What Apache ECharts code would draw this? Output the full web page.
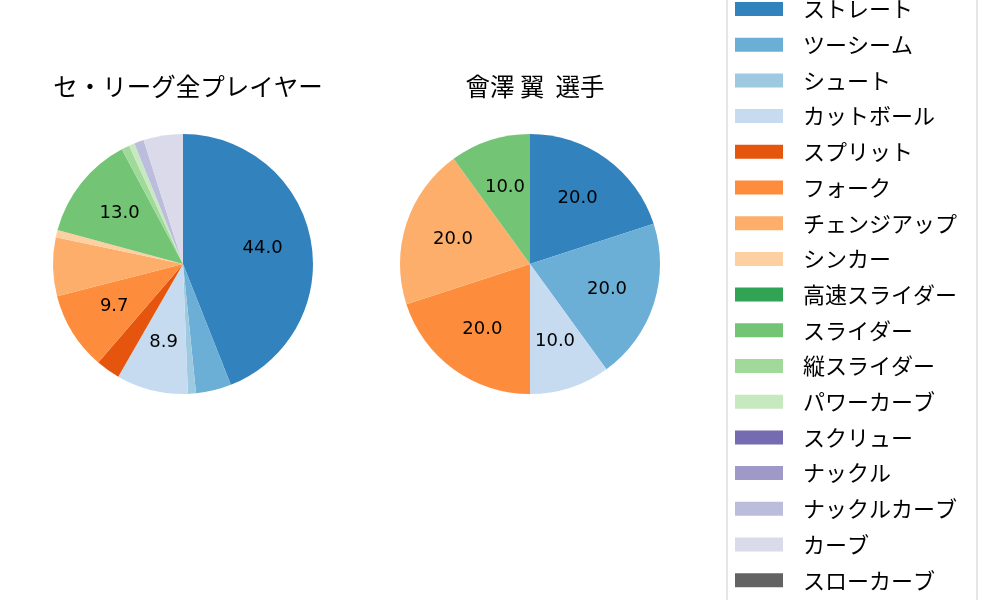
<!DOCTYPE html>
<html>
<head>
<meta charset="utf-8">
<script src="https://cdn.jsdelivr.net/npm/echarts@6/dist/echarts.min.js"></script>
<style>
  html, body { margin: 0; padding: 0; background: #fff; }
  #chart { width: 1000px; height: 600px; }
</style>
</head>
<body>
<div id="chart"></div>
<script>
(function () {
  'use strict';

  var pitchTypes = [
    'ストレート', 'ツーシーム', 'シュート', 'カットボール', 'スプリット',
    'フォーク', 'チェンジアップ', 'シンカー', '高速スライダー', 'スライダー',
    '縦スライダー', 'パワーカーブ', 'スクリュー', 'ナックル', 'ナックルカーブ',
    'カーブ', 'スローカーブ'
  ];
  var pitchColors = [
    '#3182bd', '#6baed6', '#9ecae1', '#c6dbef', '#e6550d',
    '#fd8d3c', '#fdae6b', '#fdd0a2', '#31a354', '#74c476',
    '#a1d99b', '#c7e9c0', '#756bb1', '#9e9ac8', '#bcbddc',
    '#dadaeb', '#636363'
  ];
  // share of pitches (%)
  var leagueValues = [44.0, 4.4, 1.0, 8.9, 3.0, 9.7, 7.3, 0.9, 0, 13.0, 1.0, 0.7, 0, 0, 1.2, 4.9, 0];
  var playerValues = [20.0, 20.0, 0, 10.0, 0, 20.0, 20.0, 0, 0, 10.0, 0, 0, 0, 0, 0, 0, 0];
  var titles = ['セ・リーグ全プレイヤー', '會澤 翼  選手'];
  var centers = [[183, 264], [530, 264]];
  var radius = 130;
  var labelMin = 8;

  var jpFont = '"Noto Sans CJK JP", "Noto Sans", sans-serif';

  function buildData(values, transparent) {
    return pitchTypes.map(function (name, i) {
      return {
        name: name,
        value: values[i],
        itemStyle: { color: transparent ? 'rgba(0,0,0,0)' : pitchColors[i] }
      };
    });
  }

  function pieSeries(values, center) {
    return {
      type: 'pie',
      center: center,
      radius: [0, radius],
      startAngle: 90,
      clockwise: true,
      label: { show: false },
      labelLine: { show: false },
      emphasis: { scale: false },
      data: buildData(values, false)
    };
  }

  // invisible pie, 1.2x wider, so that "inside" labels sit at 0.6 of the real radius
  function labelSeries(values, center) {
    return {
      type: 'pie',
      center: center,
      radius: [0, radius * 1.2],
      startAngle: 90,
      clockwise: true,
      silent: true,
      legendHoverLink: false,
      z: 3,
      label: {
        show: true,
        position: 'inside',
        color: '#000',
        fontSize: 18,
        fontFamily: '"DejaVu Sans", sans-serif',
        formatter: function (p) {
          return p.percent >= labelMin ? p.percent.toFixed(1) : '';
        }
      },
      labelLine: { show: false },
      emphasis: { disabled: true },
      data: buildData(values, true)
    };
  }

  var chart = echarts.init(document.getElementById('chart'), null, { renderer: 'canvas' });

  chart.setOption({
    animation: false,
    title: titles.map(function (t, i) {
      return {
        text: t,
        left: centers[i][0],
        top: 69,
        textAlign: 'center',
        textStyle: { fontFamily: jpFont, fontSize: 24.5, fontWeight: 'normal', color: '#000' }
      };
    }),
    legend: {
      type: 'plain',
      orient: 'vertical',
      left: 727,
      top: -10,
      height: 640,
      padding: [8, 20, 16, 8],
      itemWidth: 48,
      itemHeight: 14,
      itemGap: 13.7,
      icon: 'rect',
      borderColor: '#cccccc',
      borderWidth: 1,
      borderRadius: 4,
      data: pitchTypes,
      selectedMode: false,
      textStyle: {
        fontFamily: jpFont,
        fontSize: 22,
        lineHeight: 20,
        color: '#000',
        padding: [0, 0, 0, 15]
      }
    },
    series: [
      pieSeries(leagueValues, centers[0]),
      pieSeries(playerValues, centers[1]),
      labelSeries(leagueValues, centers[0]),
      labelSeries(playerValues, centers[1])
    ]
  });

  window.addEventListener('resize', function () {
    chart.resize();
  });
})();
</script>
</body>
</html>
